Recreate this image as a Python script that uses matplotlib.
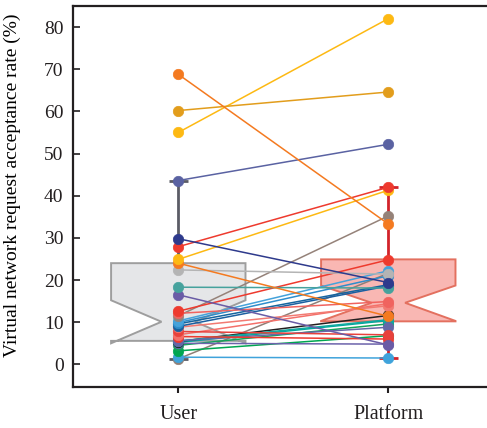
import matplotlib.pyplot as plt
import numpy as np

# paired acceptance rates (%) for each virtual network request
user_rate = [1.3, 1.7, 3.2, 4.5, 5.0, 5.2, 5.4, 5.5, 5.6, 6.6, 7.0, 7.8, 8.8, 9.0, 9.6, 9.9,
             10.3, 11.5, 12.1, 12.6, 16.5, 18.3, 22.4, 24.0, 24.9, 27.9, 29.8, 43.6,
             55.0, 60.2, 68.8]
platform_rate = [21.6, 1.5, 6.8, 9.6, 4.8, 10.4, 11.6, 10.6, 8.8, 6.0, 14.4, 7.0, 13.9, 18.6,
                 18.9, 21.0, 22.2, 35.2, 14.9, 24.8, 4.6, 18.1, 21.4, 11.4, 41.3, 42.0,
                 19.4, 52.2, 82.0, 64.6, 33.3]
pair_colors = ['#8f7f77', '#3fa3db', '#00a651', '#13a35a', '#6c63ab', '#00a99d', '#231f20',
               '#10a8a0', '#6567a8', '#ed3b30', '#f4706a', '#e8413c', '#f27a72', '#1b5fa0',
               '#14649f', '#2f8dcb', '#45a2da', '#958279', '#f0635f', '#ee3a2e', '#6a5ca6',
               '#46a29d', '#b4b4b4', '#f47a20', '#fdb913', '#ee3a2e', '#2e3a8c', '#5a62a2',
               '#fdb913', '#e29d1c', '#f47a20']

groups = ['User', 'Platform']
# box statistics: quartiles, median, notch limits, whisker ends
q1 = [5.57, 10.2]
med = [10.1, 14.6]
q3 = [24.0, 24.9]
ci_lo = [5.0, 10.3]
ci_hi = [15.2, 18.7]
whis_lo = [1.3, 1.5]
whis_hi = [43.6, 42.0]

box_fill = ['#e5e6e8', '#f9b7b3']
box_edge = ['#9e9e9e', '#e3705f']
whisker_color = ['#5b5c66', '#d2232a']

serif = 'Liberation Serif'

fig = plt.figure(figsize=(4.87, 4.28), dpi=100)
ax = fig.add_axes([0.1505, 0.0965, 0.8624, 0.8895])

pos = np.arange(1, len(groups) + 1)
width = 0.64
for i, p in enumerate(pos):
    left, right = p - width / 2, p + width / 2
    nl, nr = p - width * 0.125, p + width * 0.125
    bx = [left, right, right, nr, right, right, left, left, nl, left, left]
    by = [q1[i], q1[i], ci_lo[i], med[i], ci_hi[i], q3[i], q3[i], ci_hi[i], med[i], ci_lo[i], q1[i]]
    ax.fill(bx, by, facecolor=box_fill[i], edgecolor=box_edge[i], lw=1.4, zorder=1)
    ax.vlines(p, q3[i], whis_hi[i], color=whisker_color[i], lw=2, zorder=1.5)
    ax.vlines(p, whis_lo[i], q1[i], color=whisker_color[i], lw=2, zorder=1.5)
    ax.hlines([whis_lo[i], whis_hi[i]], p - 0.045, p + 0.045, color=whisker_color[i], lw=2, zorder=1.5)

for u, pl, c in zip(user_rate, platform_rate, pair_colors):
    ax.plot(pos, [u, pl], '-o', color=c, lw=1.1, ms=7.5, mec=c, mew=0.5, zorder=2)

ax.set_xlim(0.5, 2.5)
ax.set_ylim(-5.3, 85)
ax.set_yticks(range(0, 81, 10))
ax.set_xticks(pos)
ax.set_xticklabels(groups, fontsize=14.5, family=serif)
for lab in ax.get_yticklabels():
    lab.set_fontsize(14)
    lab.set_family(serif)
ax.set_ylabel('Virtual network request acceptance rate (%)', fontsize=14, family=serif)
ax.yaxis.set_label_coords(-0.125, 0.53)
ax.tick_params(axis='y', direction='in', length=5, width=1.2, pad=7, colors='#231f20')
ax.tick_params(axis='x', direction='out', length=4, width=1.5, pad=9, colors='#231f20')
for s in ['left', 'bottom', 'top']:
    ax.spines[s].set_linewidth(1.6)
    ax.spines[s].set_color('#231f20')
ax.spines['right'].set_visible(False)

fig.savefig('out.png', dpi=100)
